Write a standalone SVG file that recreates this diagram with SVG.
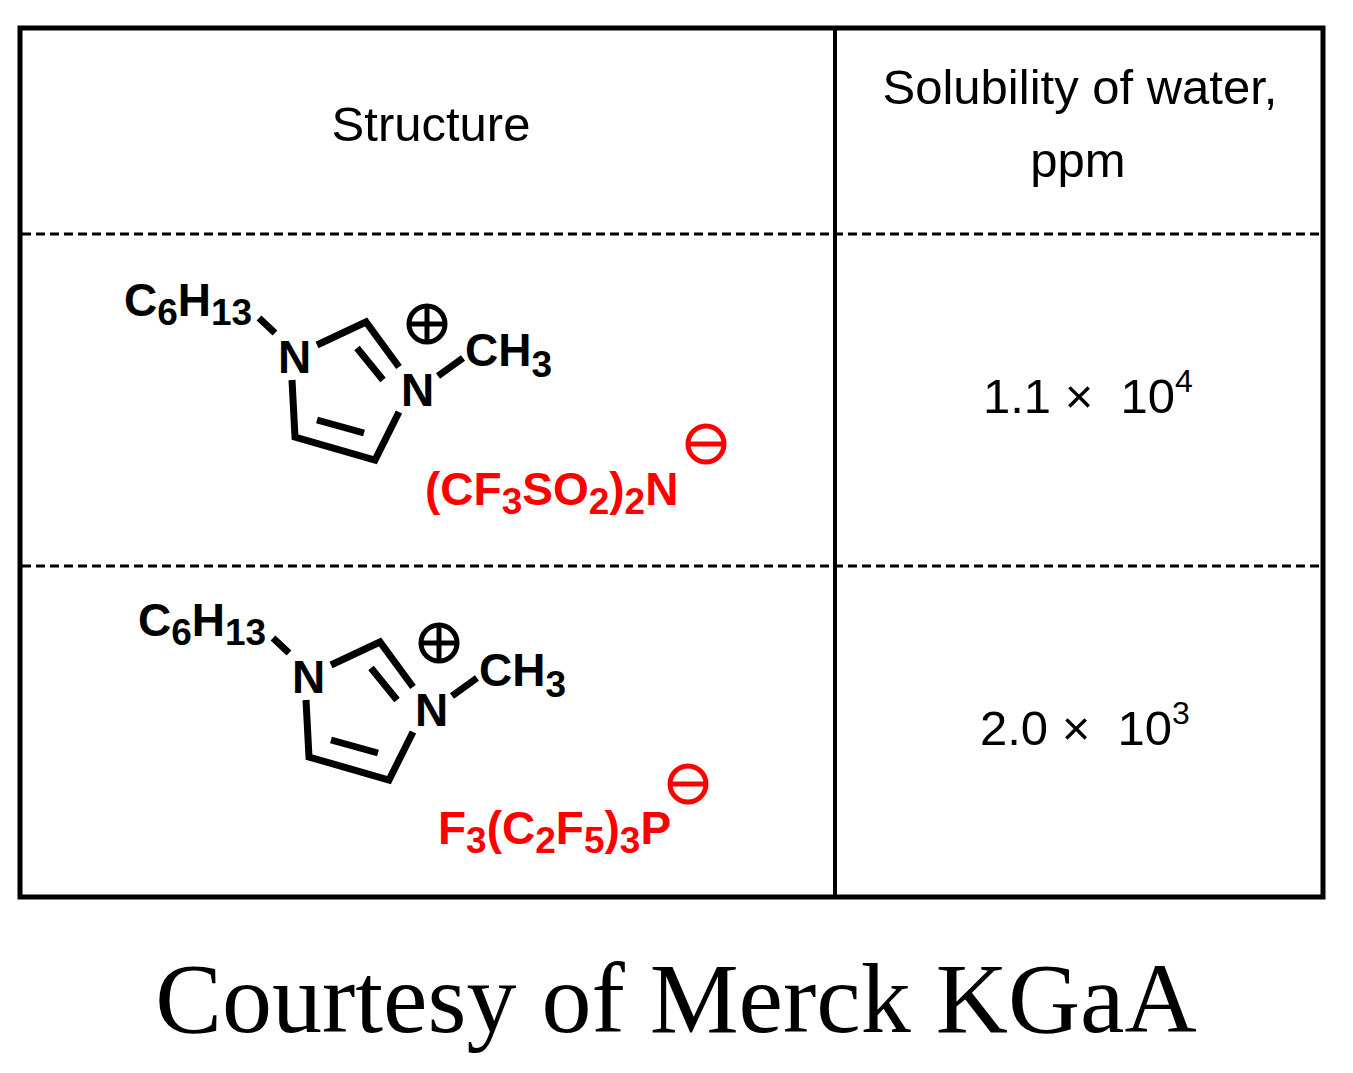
<svg xmlns="http://www.w3.org/2000/svg" width="1353" height="1073" viewBox="0 0 1353 1073">
<style>
.h{font-family:"Liberation Sans",Arial,sans-serif;font-size:49px;fill:#000}
.m{font-family:"Liberation Sans",Arial,sans-serif;font-weight:bold;font-size:46px;fill:#000}
.s{font-size:37px}
.r{fill:#f00}
.b{stroke:#000;stroke-width:7;fill:none}
.d{stroke:#000;stroke-width:3;stroke-dasharray:9 5}
</style>
<rect width="1353" height="1073" fill="#fff"/>
<g id="table">
<rect x="20" y="28" width="1303" height="869" fill="none" stroke="#000" stroke-width="5"/>
<line x1="835" y1="28" x2="835" y2="897" stroke="#000" stroke-width="4"/>
</g>
<g id="connectors">
<line class="d" x1="22" y1="234" x2="1321" y2="234"/>
<line class="d" x1="22" y1="566" x2="1321" y2="566"/>
</g>
<g id="header">
<text class="h" x="431" y="141" text-anchor="middle">Structure</text>
<text class="h" x="1080" y="104" text-anchor="middle">Solubility of water,</text>
<text class="h" x="1078" y="177" text-anchor="middle">ppm</text>
</g>
<g id="mol1">
<path class="b" d="M259 318L275 333M317 345L366 322L399 367M357 348L383 380M399 412L375 460L295 437L292 380M317 420L364 433M438 376L463 358"/>
<text class="m" x="124" y="316">C<tspan class="s" dy="9">6</tspan><tspan dy="-9">H</tspan><tspan class="s" dy="9">13</tspan></text>
<text class="m" x="278" y="373">N</text>
<text class="m" x="401" y="406">N</text>
<text class="m" x="465" y="366">CH<tspan class="s" dy="11">3</tspan></text>
<circle cx="427" cy="324" r="18" fill="none" stroke="#000" stroke-width="5"/>
<path d="M427 308V340M411 324H443" stroke="#000" stroke-width="5"/>
<text class="m r" x="425" y="505">(CF<tspan class="s" dy="9">3</tspan><tspan dy="-9">SO</tspan><tspan class="s" dy="9">2</tspan><tspan dy="-9">)</tspan><tspan class="s" dy="9">2</tspan><tspan dy="-9">N</tspan></text>
<circle cx="706" cy="444" r="18" fill="none" stroke="#f00" stroke-width="5"/>
<path d="M690 444H722" stroke="#f00" stroke-width="5"/>
</g>
<g id="mol2" transform="translate(14,320)">
<path class="b" d="M259 318L275 333M317 345L366 322L399 367M357 348L383 380M399 412L375 460L295 437L292 380M317 420L364 433M438 376L463 358"/>
<text class="m" x="124" y="316">C<tspan class="s" dy="9">6</tspan><tspan dy="-9">H</tspan><tspan class="s" dy="9">13</tspan></text>
<text class="m" x="278" y="373">N</text>
<text class="m" x="401" y="406">N</text>
<text class="m" x="465" y="366">CH<tspan class="s" dy="11">3</tspan></text>
<circle cx="425" cy="323" r="18" fill="none" stroke="#000" stroke-width="5"/>
<path d="M425 307V339M409 323H441" stroke="#000" stroke-width="5"/>
<text class="m r" x="424" y="524">F<tspan class="s" dy="9">3</tspan><tspan dy="-9">(C</tspan><tspan class="s" dy="9">2</tspan><tspan dy="-9">F</tspan><tspan class="s" dy="9">5</tspan><tspan dy="-9">)</tspan><tspan class="s" dy="9">3</tspan><tspan dy="-9">P</tspan></text>
<circle cx="674" cy="464" r="18" fill="none" stroke="#f00" stroke-width="5"/>
<path d="M658 464H690" stroke="#f00" stroke-width="5"/>
</g>
<g id="values">
<text class="h" x="983" y="413">1.1 × &#160;10<tspan font-size="32" dy="-21">4</tspan></text>
<text class="h" x="980" y="745">2.0 × &#160;10<tspan font-size="32" dy="-21">3</tspan></text>
</g>
<text x="676" y="1032" text-anchor="middle" font-family="Liberation Serif,serif" font-size="100">Courtesy of Merck KGaA</text>
</svg>
